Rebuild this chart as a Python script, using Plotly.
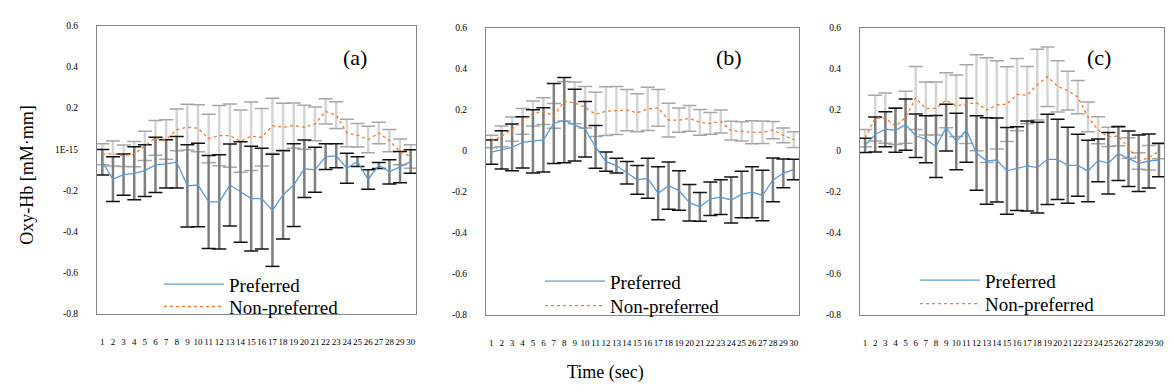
import plotly.graph_objects as go

time_sec = list(range(1, 31))
y_ticks = [-0.8, -0.6, -0.4, -0.2, 0.0, 0.2, 0.4, 0.6]
y_ticktext_a = ["-0.8", "-0.6", "-0.4", "-0.2", "1E-15", "0.2", "0.4", "0.6"]
y_ticktext_bc = ["-0.8", "-0.6", "-0.4", "-0.2", "0", "0.2", "0.4", "0.6"]
panel_labels = ["(a)", "(b)", "(c)"]
series_names = ["Preferred", "Non-preferred"]

# Panel (a)
pref_a = [-0.063, -0.145, -0.123, -0.117, -0.104, -0.076, -0.071, -0.063, -0.178, -0.174,
          -0.256, -0.256, -0.174, -0.208, -0.240, -0.240, -0.297, -0.221, -0.174, -0.095,
          -0.100, -0.036, -0.032, -0.092, -0.060, -0.147, -0.079, -0.110, -0.087, -0.060]
pref_a_err = [0.062, 0.109, 0.100, 0.129, 0.126, 0.134, 0.117, 0.125, 0.200, 0.203,
              0.226, 0.229, 0.199, 0.244, 0.254, 0.245, 0.272, 0.215, 0.201, 0.140,
              0.109, 0.063, 0.058, 0.073, 0.024, 0.047, 0.015, 0.059, 0.076, 0.057]
nonpref_a = [-0.024, -0.021, -0.032, -0.024, 0.016, 0.055, 0.047, 0.094, 0.107, 0.102,
             0.052, 0.066, 0.066, 0.039, 0.063, 0.058, 0.113, 0.107, 0.115, 0.107,
             0.123, 0.184, 0.165, 0.079, 0.068, 0.047, 0.079, 0.042, -0.013, -0.035]
nonpref_a_err = [0.051, 0.061, 0.052, 0.061, 0.071, 0.084, 0.096, 0.101, 0.111, 0.114,
                 0.118, 0.146, 0.154, 0.151, 0.166, 0.140, 0.134, 0.116, 0.110, 0.107,
                 0.082, 0.061, 0.065, 0.067, 0.057, 0.064, 0.052, 0.054, 0.063, 0.057]

# Panel (b)
pref_b = [-0.007, 0.004, 0.016, 0.041, 0.046, 0.053, 0.133, 0.149, 0.125, 0.105,
          0.019, -0.053, -0.072, -0.107, -0.142, -0.134, -0.207, -0.170, -0.194, -0.253,
          -0.273, -0.234, -0.226, -0.240, -0.213, -0.202, -0.218, -0.142, -0.110, -0.091]
pref_b_err = [0.059, 0.093, 0.114, 0.125, 0.154, 0.157, 0.195, 0.208, 0.175, 0.135,
              0.104, 0.047, 0.036, 0.055, 0.070, 0.097, 0.129, 0.115, 0.096, 0.089,
              0.070, 0.082, 0.085, 0.112, 0.113, 0.124, 0.123, 0.107, 0.070, 0.050]
nonpref_b = [0.045, 0.070, 0.105, 0.143, 0.181, 0.193, 0.170, 0.241, 0.233, 0.212,
             0.177, 0.193, 0.196, 0.198, 0.185, 0.204, 0.209, 0.149, 0.149, 0.158,
             0.138, 0.133, 0.143, 0.098, 0.094, 0.090, 0.090, 0.101, 0.075, 0.054]
nonpref_b_err = [0.030, 0.050, 0.059, 0.063, 0.061, 0.065, 0.060, 0.096, 0.102, 0.101,
                 0.108, 0.119, 0.117, 0.100, 0.093, 0.105, 0.090, 0.082, 0.059, 0.063,
                 0.063, 0.053, 0.056, 0.046, 0.047, 0.056, 0.055, 0.042, 0.036, 0.038]

# Panel (c)
pref_c = [0.026, 0.079, 0.105, 0.100, 0.127, 0.073, 0.056, 0.021, 0.113, 0.045,
          0.100, -0.011, -0.050, -0.045, -0.098, -0.087, -0.074, -0.082, -0.042, -0.042,
          -0.071, -0.071, -0.099, -0.047, -0.061, -0.014, -0.039, -0.061, -0.050, -0.045]
pref_c_err = [0.035, 0.085, 0.085, 0.107, 0.125, 0.106, 0.115, 0.151, 0.114, 0.138,
              0.156, 0.181, 0.211, 0.205, 0.211, 0.204, 0.219, 0.221, 0.220, 0.195,
              0.185, 0.151, 0.150, 0.104, 0.150, 0.131, 0.135, 0.138, 0.132, 0.082]
nonpref_c = [0.062, 0.159, 0.159, 0.120, 0.163, 0.257, 0.206, 0.206, 0.246, 0.219,
             0.227, 0.234, 0.198, 0.223, 0.227, 0.274, 0.271, 0.322, 0.361, 0.314,
             0.293, 0.261, 0.165, 0.100, 0.068, 0.072, 0.013, -0.050, -0.034, -0.003]
nonpref_c_err = [0.042, 0.112, 0.122, 0.090, 0.127, 0.154, 0.129, 0.129, 0.134, 0.150,
                 0.192, 0.234, 0.255, 0.215, 0.182, 0.176, 0.139, 0.172, 0.145, 0.125,
                 0.094, 0.081, 0.073, 0.066, 0.047, 0.048, 0.050, 0.040, 0.060, 0.036]

panels = [
    (pref_a, pref_a_err, nonpref_a, nonpref_a_err),
    (pref_b, pref_b_err, nonpref_b, nonpref_b_err),
    (pref_c, pref_c_err, nonpref_c, nonpref_c_err),
]

# page body has an 8px margin, so the figure is 8px smaller than the window
W, H = 1166, 384
SERIF = "Liberation Serif"
BLUE = "#5B9BD5"
ORANGE = "#ED7D31"

# plot-area pixel boxes in figure coordinates (left, right, top, bottom)
boxes = [(89, 408, 13, 309), (478, 791, 15, 310), (852, 1156, 15, 310)]
label_pos = [(347, 46), (721, 46), (1091, 46)]
# (legend x, top of row 1, top of row 2)
legend_pos = [(151, 259, 282), (532, 256, 281), (907, 255, 279)]

fig = go.Figure()
layout = dict(
    width=W, height=H, margin=dict(l=0, r=0, t=0, b=0),
    paper_bgcolor="white", plot_bgcolor="white", showlegend=True,
    annotations=[],
)

for k, (pm, pe, nm, ne) in enumerate(panels):
    sfx = "" if k == 0 else str(k + 1)
    xa, ya = "x" + sfx, "y" + sfx
    leg1 = "legend" if k == 0 else "legend" + str(2 * k + 1)
    leg2 = "legend" + str(2 * k + 2)
    # non-preferred error bars (light gray)
    fig.add_trace(go.Scatter(
        x=time_sec, y=nm, mode="markers", marker=dict(size=0.1, opacity=0),
        error_y=dict(type="data", array=ne, color="#d4d4d4", thickness=2.5, width=0),
        xaxis=xa, yaxis=ya, showlegend=False, hoverinfo="skip"))
    fig.add_trace(go.Scatter(
        x=time_sec * 2, y=[m + e for m, e in zip(nm, ne)] + [m - e for m, e in zip(nm, ne)],
        mode="markers", marker=dict(symbol="line-ew", size=10, line=dict(color="#a6a6a6", width=1.5)),
        xaxis=xa, yaxis=ya, showlegend=False, hoverinfo="skip"))
    # preferred error bars (dark gray / black caps)
    fig.add_trace(go.Scatter(
        x=time_sec, y=pm, mode="markers", marker=dict(size=0.1, opacity=0),
        error_y=dict(type="data", array=pe, color="#7f7f7f", thickness=2.5, width=0),
        xaxis=xa, yaxis=ya, showlegend=False, hoverinfo="skip"))
    fig.add_trace(go.Scatter(
        x=time_sec * 2, y=[m + e for m, e in zip(pm, pe)] + [m - e for m, e in zip(pm, pe)],
        mode="markers", marker=dict(symbol="line-ew", size=10, line=dict(color="#111111", width=1.5)),
        xaxis=xa, yaxis=ya, showlegend=False, hoverinfo="skip"))
    # lines
    fig.add_trace(go.Scatter(
        x=time_sec, y=pm, mode="lines", name=series_names[0],
        line=dict(color=BLUE, width=1.3), xaxis=xa, yaxis=ya, legend=leg1))
    fig.add_trace(go.Scatter(
        x=time_sec, y=nm, mode="lines", name=series_names[1],
        line=dict(color=ORANGE, width=1.3, dash="dot"), xaxis=xa, yaxis=ya, legend=leg2))

    l, r, t, b = boxes[k]
    layout["xaxis" + sfx] = dict(
        domain=[l / W, r / W], anchor=ya, range=[0.5, 30.5],
        tickmode="array", tickvals=time_sec, ticktext=[str(v) for v in time_sec],
        tickangle=0, ticks="", ticklabelstandoff=19,
        tickfont=dict(family=SERIF, size=9, color="black"),
        showline=True, linecolor="#868686", linewidth=1, mirror=True,
        showgrid=False, zeroline=False)
    layout["yaxis" + sfx] = dict(
        domain=[1 - b / H, 1 - t / H], anchor=xa, range=[-0.8, 0.6],
        tickmode="array", tickvals=y_ticks,
        ticktext=y_ticktext_a if k == 0 else y_ticktext_bc,
        ticks="", ticklabelstandoff=16,
        tickfont=dict(family=SERIF, size=9.5, color="black"),
        showline=True, linecolor="#868686", linewidth=1, mirror=True,
        showgrid=False, zeroline=False)
    lx, ly1, ly2 = legend_pos[k]
    for leg, ly in ((leg1, ly1), (leg2, ly2)):
        layout[leg] = dict(
            x=lx / W, y=1 - ly / H, xanchor="left", yanchor="top",
            bgcolor="rgba(0,0,0,0)", font=dict(family=SERIF, size=19, color="black"),
            tracegroupgap=0, itemwidth=60)
    px, py = label_pos[k]
    layout["annotations"].append(dict(
        x=px / W, y=1 - py / H, xref="paper", yref="paper", xanchor="center", yanchor="middle",
        text=panel_labels[k], showarrow=False, font=dict(family=SERIF, size=22, color="black")))

layout["annotations"].append(dict(
    x=19 / W, y=1 - 167 / H, xref="paper", yref="paper", xanchor="center", yanchor="middle",
    text="Oxy-Hb [mM·mm]", textangle=-90, showarrow=False,
    font=dict(family=SERIF, size=18, color="black")))
layout["annotations"].append(dict(
    x=598 / W, y=1 - 369 / H, xref="paper", yref="paper", xanchor="center", yanchor="middle",
    text="Time (sec)", showarrow=False, font=dict(family=SERIF, size=18, color="black")))

fig.update_layout(**layout)
fig.write_html("out.html")
